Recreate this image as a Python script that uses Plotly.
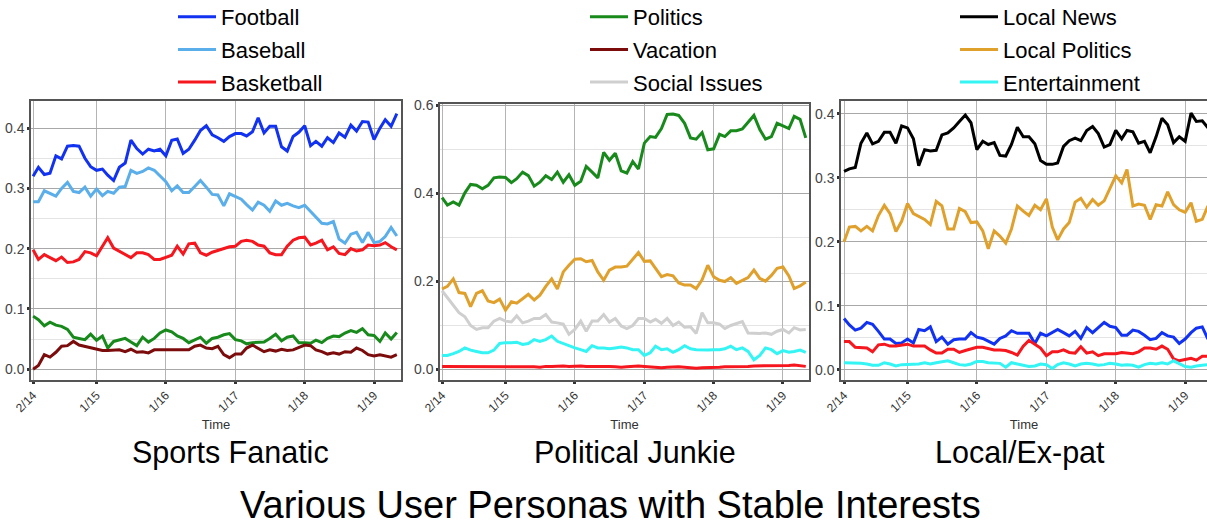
import pandas as pd
import plotly.graph_objects as go

# ---------------- data ----------------
months = pd.date_range("2014-02-01", periods=64, freq="MS")
tick_vals = ["2014-02-01", "2015-01-01", "2016-01-01", "2017-01-01", "2018-01-01", "2019-01-01"]
tick_text = ["2/14", "1/15", "1/16", "1/17", "1/18", "1/19"]

# Panel 1: Sports Fanatic
sports_football = [0.320, 0.335, 0.323, 0.325, 0.354, 0.349, 0.370, 0.371, 0.370, 0.350, 0.336, 0.330, 0.332, 0.322, 0.313, 0.335,
                   0.342, 0.380, 0.366, 0.357, 0.365, 0.362, 0.365, 0.354, 0.380, 0.382, 0.358, 0.365, 0.380, 0.396, 0.404, 0.389,
                   0.384, 0.378, 0.386, 0.391, 0.391, 0.387, 0.394, 0.417, 0.392, 0.403, 0.403, 0.369, 0.362, 0.386, 0.393, 0.404,
                   0.371, 0.378, 0.370, 0.384, 0.376, 0.392, 0.385, 0.405, 0.395, 0.411, 0.410, 0.381, 0.400, 0.414, 0.403, 0.424]
sports_baseball = [0.278, 0.278, 0.296, 0.292, 0.287, 0.300, 0.310, 0.295, 0.293, 0.302, 0.287, 0.299, 0.288, 0.295, 0.292, 0.302,
                   0.303, 0.330, 0.325, 0.328, 0.334, 0.330, 0.321, 0.311, 0.296, 0.304, 0.293, 0.293, 0.303, 0.313, 0.302, 0.290,
                   0.289, 0.271, 0.291, 0.286, 0.282, 0.273, 0.264, 0.277, 0.272, 0.262, 0.279, 0.272, 0.275, 0.271, 0.268, 0.272,
                   0.262, 0.253, 0.242, 0.241, 0.245, 0.216, 0.209, 0.224, 0.227, 0.210, 0.227, 0.210, 0.212, 0.220, 0.235, 0.221]
sports_basketball = [0.198, 0.182, 0.190, 0.185, 0.180, 0.186, 0.177, 0.178, 0.182, 0.195, 0.193, 0.188, 0.205, 0.218, 0.201, 0.196,
                     0.191, 0.185, 0.193, 0.193, 0.190, 0.182, 0.182, 0.186, 0.189, 0.204, 0.191, 0.208, 0.209, 0.193, 0.189, 0.194,
                     0.197, 0.200, 0.203, 0.204, 0.212, 0.214, 0.212, 0.206, 0.204, 0.193, 0.190, 0.190, 0.204, 0.214, 0.218, 0.219,
                     0.206, 0.209, 0.214, 0.198, 0.203, 0.192, 0.190, 0.200, 0.196, 0.198, 0.206, 0.205, 0.206, 0.210, 0.203, 0.198]
sports_politics = [0.088, 0.082, 0.072, 0.078, 0.073, 0.071, 0.066, 0.053, 0.051, 0.049, 0.058, 0.048, 0.055, 0.035, 0.046, 0.048,
                   0.051, 0.045, 0.039, 0.053, 0.045, 0.051, 0.060, 0.065, 0.062, 0.055, 0.051, 0.044, 0.048, 0.053, 0.043, 0.051,
                   0.053, 0.057, 0.059, 0.049, 0.047, 0.042, 0.044, 0.045, 0.045, 0.051, 0.058, 0.047, 0.053, 0.055, 0.044, 0.044,
                   0.043, 0.048, 0.044, 0.051, 0.055, 0.054, 0.060, 0.064, 0.061, 0.067, 0.057, 0.056, 0.046, 0.060, 0.050, 0.061]
sports_vacation = [0.000, 0.006, 0.024, 0.020, 0.028, 0.038, 0.039, 0.046, 0.040, 0.038, 0.036, 0.034, 0.031, 0.031, 0.031, 0.032,
                   0.029, 0.033, 0.028, 0.029, 0.027, 0.032, 0.032, 0.032, 0.032, 0.031, 0.031, 0.032, 0.038, 0.040, 0.035, 0.034,
                   0.038, 0.024, 0.019, 0.025, 0.025, 0.035, 0.040, 0.035, 0.029, 0.032, 0.030, 0.033, 0.031, 0.032, 0.036, 0.040,
                   0.039, 0.032, 0.029, 0.025, 0.027, 0.025, 0.029, 0.028, 0.035, 0.031, 0.024, 0.022, 0.024, 0.022, 0.020, 0.024]

# Panel 2: Political Junkie
junkie_politics = [0.390, 0.373, 0.380, 0.373, 0.401, 0.420, 0.418, 0.410, 0.418, 0.435, 0.437, 0.436, 0.424, 0.433, 0.448, 0.440,
                   0.416, 0.425, 0.440, 0.431, 0.448, 0.425, 0.442, 0.418, 0.427, 0.461, 0.448, 0.435, 0.493, 0.475, 0.491, 0.451,
                   0.446, 0.472, 0.455, 0.514, 0.529, 0.527, 0.547, 0.579, 0.580, 0.577, 0.559, 0.526, 0.523, 0.538, 0.499, 0.501,
                   0.534, 0.529, 0.542, 0.542, 0.546, 0.562, 0.577, 0.545, 0.523, 0.529, 0.559, 0.553, 0.547, 0.575, 0.568, 0.526]
junkie_local_politics = [0.182, 0.188, 0.205, 0.174, 0.172, 0.142, 0.172, 0.178, 0.155, 0.151, 0.159, 0.134, 0.153, 0.150, 0.160, 0.170,
                         0.157, 0.168, 0.188, 0.205, 0.182, 0.221, 0.236, 0.250, 0.251, 0.244, 0.247, 0.221, 0.202, 0.225, 0.232, 0.232,
                         0.234, 0.251, 0.265, 0.245, 0.246, 0.229, 0.210, 0.215, 0.212, 0.196, 0.191, 0.191, 0.183, 0.203, 0.236, 0.210,
                         0.202, 0.199, 0.208, 0.195, 0.202, 0.208, 0.225, 0.206, 0.200, 0.213, 0.229, 0.232, 0.212, 0.183, 0.189, 0.198]
junkie_social = [0.178, 0.163, 0.144, 0.128, 0.119, 0.099, 0.090, 0.094, 0.094, 0.109, 0.115, 0.109, 0.107, 0.121, 0.105, 0.109,
                 0.115, 0.115, 0.124, 0.107, 0.105, 0.102, 0.079, 0.090, 0.109, 0.086, 0.109, 0.109, 0.124, 0.107, 0.115, 0.098,
                 0.092, 0.099, 0.115, 0.115, 0.107, 0.113, 0.104, 0.115, 0.099, 0.107, 0.095, 0.096, 0.081, 0.128, 0.105, 0.105,
                 0.102, 0.092, 0.099, 0.103, 0.108, 0.082, 0.081, 0.081, 0.082, 0.079, 0.086, 0.090, 0.082, 0.094, 0.089, 0.090]
junkie_entertainment = [0.031, 0.031, 0.035, 0.040, 0.048, 0.043, 0.040, 0.037, 0.037, 0.043, 0.058, 0.060, 0.060, 0.061, 0.056, 0.058,
                        0.067, 0.063, 0.067, 0.075, 0.063, 0.058, 0.052, 0.048, 0.044, 0.040, 0.053, 0.048, 0.048, 0.046, 0.048, 0.050,
                        0.048, 0.044, 0.044, 0.031, 0.037, 0.052, 0.044, 0.046, 0.038, 0.044, 0.053, 0.046, 0.044, 0.043, 0.043, 0.044,
                        0.044, 0.046, 0.052, 0.044, 0.048, 0.040, 0.021, 0.031, 0.048, 0.044, 0.035, 0.042, 0.038, 0.040, 0.043, 0.038]
junkie_basketball = [0.006, 0.006, 0.005, 0.006, 0.006, 0.005, 0.006, 0.006, 0.006, 0.005, 0.006, 0.006, 0.005, 0.005, 0.005, 0.005,
                     0.005, 0.004, 0.006, 0.006, 0.007, 0.007, 0.006, 0.007, 0.007, 0.006, 0.006, 0.007, 0.006, 0.006, 0.005, 0.004,
                     0.005, 0.006, 0.007, 0.006, 0.005, 0.004, 0.003, 0.004, 0.005, 0.005, 0.004, 0.003, 0.002, 0.003, 0.003, 0.004,
                     0.004, 0.005, 0.005, 0.006, 0.005, 0.006, 0.007, 0.007, 0.008, 0.008, 0.007, 0.007, 0.008, 0.009, 0.008, 0.006]

# Panel 3: Local/Ex-pat
local_news = [0.310, 0.314, 0.316, 0.354, 0.370, 0.353, 0.357, 0.371, 0.371, 0.354, 0.381, 0.378, 0.361, 0.319, 0.344, 0.342,
              0.343, 0.367, 0.370, 0.378, 0.388, 0.398, 0.386, 0.344, 0.357, 0.352, 0.355, 0.335, 0.334, 0.352, 0.379, 0.364,
              0.364, 0.353, 0.327, 0.321, 0.321, 0.323, 0.349, 0.358, 0.362, 0.358, 0.374, 0.380, 0.369, 0.348, 0.352, 0.374,
              0.361, 0.374, 0.372, 0.354, 0.357, 0.339, 0.364, 0.393, 0.383, 0.355, 0.364, 0.357, 0.401, 0.388, 0.389, 0.378]
local_local_politics = [0.200, 0.223, 0.224, 0.217, 0.224, 0.217, 0.241, 0.257, 0.244, 0.216, 0.232, 0.260, 0.244, 0.240, 0.235, 0.227,
                        0.263, 0.256, 0.220, 0.220, 0.252, 0.247, 0.230, 0.231, 0.217, 0.189, 0.217, 0.209, 0.198, 0.220, 0.256, 0.248,
                        0.241, 0.257, 0.250, 0.267, 0.223, 0.203, 0.220, 0.230, 0.262, 0.268, 0.254, 0.266, 0.257, 0.264, 0.282, 0.303,
                        0.292, 0.313, 0.256, 0.259, 0.257, 0.235, 0.258, 0.256, 0.278, 0.258, 0.250, 0.246, 0.261, 0.232, 0.235, 0.256]
local_football = [0.080, 0.070, 0.062, 0.065, 0.074, 0.071, 0.060, 0.048, 0.048, 0.041, 0.042, 0.048, 0.042, 0.063, 0.061, 0.067,
                  0.044, 0.051, 0.040, 0.047, 0.048, 0.048, 0.058, 0.051, 0.049, 0.044, 0.040, 0.049, 0.053, 0.061, 0.057, 0.057,
                  0.057, 0.041, 0.057, 0.053, 0.058, 0.063, 0.058, 0.053, 0.060, 0.049, 0.066, 0.058, 0.066, 0.074, 0.068, 0.066,
                  0.054, 0.054, 0.062, 0.060, 0.054, 0.047, 0.049, 0.058, 0.053, 0.051, 0.041, 0.048, 0.058, 0.065, 0.067, 0.048]
local_basketball = [0.044, 0.044, 0.035, 0.034, 0.034, 0.028, 0.039, 0.040, 0.037, 0.037, 0.039, 0.040, 0.037, 0.037, 0.037, 0.031,
                    0.026, 0.026, 0.032, 0.032, 0.027, 0.030, 0.032, 0.035, 0.035, 0.033, 0.031, 0.031, 0.030, 0.027, 0.023, 0.037,
                    0.046, 0.040, 0.034, 0.022, 0.028, 0.028, 0.031, 0.027, 0.026, 0.036, 0.026, 0.028, 0.022, 0.025, 0.025, 0.025,
                    0.027, 0.026, 0.025, 0.028, 0.034, 0.034, 0.032, 0.037, 0.032, 0.017, 0.014, 0.016, 0.018, 0.015, 0.021, 0.021]
local_entertainment = [0.011, 0.011, 0.010, 0.010, 0.009, 0.007, 0.007, 0.011, 0.009, 0.006, 0.008, 0.008, 0.009, 0.009, 0.011, 0.009,
                       0.011, 0.013, 0.014, 0.011, 0.008, 0.007, 0.009, 0.013, 0.013, 0.011, 0.011, 0.010, 0.004, 0.011, 0.009, 0.007,
                       0.005, 0.006, 0.009, 0.008, 0.002, 0.008, 0.011, 0.009, 0.006, 0.009, 0.010, 0.009, 0.007, 0.008, 0.010, 0.009,
                       0.007, 0.008, 0.007, 0.004, 0.008, 0.010, 0.009, 0.011, 0.009, 0.014, 0.009, 0.005, 0.004, 0.006, 0.007, 0.008]

# ---------------- styles ----------------
COLORS = {
    "Football": "#1232f2",
    "Baseball": "#5aaeea",
    "Basketball": "#f5161e",
    "Politics": "#188a1c",
    "Vacation": "#7c0c0c",
    "Social Issues": "#cfcfcf",
    "Local News": "#000000",
    "Local Politics": "#e0a02c",
    "Entertainment": "#34f4f4",
}
LEGEND_OF = {
    "Football": "legend", "Baseball": "legend", "Basketball": "legend",
    "Politics": "legend2", "Vacation": "legend2", "Social Issues": "legend2",
    "Local News": "legend3", "Local Politics": "legend3", "Entertainment": "legend3",
}
LEGEND_RANK = {"Football": 1, "Baseball": 2, "Basketball": 3,
               "Politics": 1, "Vacation": 2, "Social Issues": 3,
               "Local News": 1, "Local Politics": 2, "Entertainment": 3}

panels = [
    ("x", "y", [("Football", sports_football), ("Baseball", sports_baseball), ("Basketball", sports_basketball),
                ("Politics", sports_politics), ("Vacation", sports_vacation)]),
    ("x2", "y2", [("Politics", junkie_politics), ("Local Politics", junkie_local_politics),
                  ("Social Issues", junkie_social), ("Entertainment", junkie_entertainment),
                  ("Basketball", junkie_basketball)]),
    ("x3", "y3", [("Local News", local_news), ("Local Politics", local_local_politics),
                  ("Football", local_football), ("Basketball", local_basketball),
                  ("Entertainment", local_entertainment)]),
]

fig = go.Figure()
shown = set()
for xa, ya, series in panels:
    for name, vals in series:
        show = name not in shown
        shown.add(name)
        fig.add_trace(go.Scatter(
            x=months, y=vals, mode="lines", name=name,
            line=dict(color=COLORS[name], width=3),
            xaxis=xa, yaxis=ya, legendgroup=name, showlegend=show,
            legend=LEGEND_OF[name], legendrank=LEGEND_RANK[name],
        ))

W, H = 1207, 525
def px_x(p):
    return p / W
def px_y(p):
    return 1 - p / H

FONT = "Liberation Sans, Arial, Helvetica, sans-serif"

def xaxis(dom, rng, anchor):
    return dict(domain=[px_x(dom[0]), min(1.0, px_x(dom[1]))], anchor=anchor, type="date",
                range=rng, tickvals=tick_vals, ticktext=tick_text, tickangle=-45,
                tickfont=dict(size=12, color="#333", family=FONT),
                ticks="outside", ticklen=2, tickwidth=3, tickcolor="#333",
                showgrid=True, gridcolor="#b4b4b4", gridwidth=1,
                showline=True, linecolor="#555", linewidth=1.5, mirror=True,
                zeroline=False, automargin=False,
                title=dict(text="Time", font=dict(size=13, color="#333", family=FONT), standoff=6))

def yaxis(dom, rng, dtick, anchor):
    return dict(domain=[px_y(dom[1]), px_y(dom[0])], anchor=anchor, range=rng,
                dtick=dtick, tick0=0, tickformat=".1f",
                tickfont=dict(size=14, color="#444", family=FONT),
                ticks="outside", ticklen=2, tickwidth=3, tickcolor="#333",
                showgrid=True, gridcolor="#a8a8a8", gridwidth=1,
                minor=dict(dtick=dtick / 2, tick0=0, showgrid=True, gridcolor="#e4e4e4", gridwidth=1, ticks=""),
                showline=True, linecolor="#555", linewidth=1.5, mirror=True,
                zeroline=False, automargin=False)

legend_common = dict(font=dict(size=22, color="#000", family=FONT), bgcolor="rgba(0,0,0,0)",
                     yanchor="top", xanchor="left", y=1 + 4 / H, tracegroupgap=1, itemwidth=38,
                     itemclick=False, itemdoubleclick=False)

fig.update_layout(
    template="none",
    width=W, height=H,
    margin=dict(l=0, r=0, t=0, b=0, pad=0, autoexpand=False),
    paper_bgcolor="white", plot_bgcolor="white",
    font=dict(family=FONT),
    showlegend=True,
    xaxis=xaxis((31, 401), ["2014-01-21", "2019-05-23"], "y"),
    yaxis=yaxis((101, 380), [-0.018, 0.445], 0.1, "x"),
    xaxis2=xaxis((440, 809), ["2014-01-21", "2019-05-18"], "y2"),
    yaxis2=yaxis((104, 380), [-0.025, 0.603], 0.2, "x2"),
    xaxis3=xaxis((841, 1207), ["2014-01-16", "2019-04-26"], "y3"),
    yaxis3=yaxis((101, 380), [-0.016, 0.42], 0.1, "x3"),
    legend=dict(x=px_x(173), **legend_common),
    legend2=dict(x=px_x(585), **legend_common),
    legend3=dict(x=px_x(955), **legend_common),
    annotations=[
        dict(text="Sports Fanatic", x=px_x(230), y=px_y(452), xref="paper", yref="paper",
             showarrow=False, font=dict(size=30.5, color="#000", family=FONT), xanchor="center", yanchor="middle"),
        dict(text="Political Junkie", x=px_x(635), y=px_y(452), xref="paper", yref="paper",
             showarrow=False, font=dict(size=30.5, color="#000", family=FONT), xanchor="center", yanchor="middle"),
        dict(text="Local/Ex-pat", x=px_x(1020), y=px_y(452), xref="paper", yref="paper",
             showarrow=False, font=dict(size=30.5, color="#000", family=FONT), xanchor="center", yanchor="middle"),
        dict(text="Various User Personas with Stable Interests", x=px_x(610), y=px_y(505),
             xref="paper", yref="paper", showarrow=False,
             font=dict(size=38, color="#000", family=FONT), xanchor="center", yanchor="middle"),
    ],
)

# remove the browser's default 8px body margin so the figure fills the window
fig.write_html("out.html", config={"displayModeBar": False},
               post_script="document.body.style.margin='0px';document.body.style.overflow='hidden';")
